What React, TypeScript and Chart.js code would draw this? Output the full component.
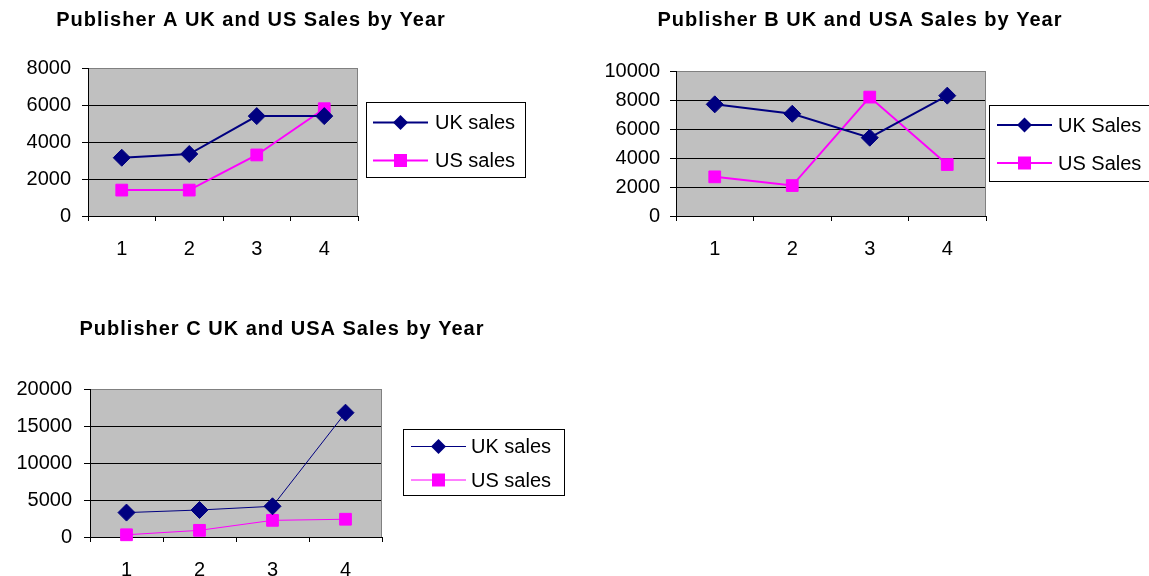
import { useEffect, useRef } from "react";
import { Chart, registerables } from "chart.js";

Chart.register(...registerables);

// ---------- data ----------
const years = ["1", "2", "3", "4"];

const titleA = "Publisher A UK and US Sales by Year";
const labelsA = ["UK sales", "US sales"];
const ukA = [3150, 3350, 5400, 5400];
const usA = [1400, 1400, 3300, 5800];
const maxA = 8000;
const stepA = 2000;

const titleB = "Publisher B UK and USA Sales by Year";
const labelsB = ["UK Sales", "US Sales"];
const ukB = [7700, 7050, 5400, 8300];
const usB = [2700, 2100, 8200, 3550];
const maxB = 10000;
const stepB = 2000;

const titleC = "Publisher C UK and USA Sales by Year";
const labelsC = ["UK sales", "US sales"];
const ukC = [3300, 3650, 4150, 16800];
const usC = [300, 900, 2250, 2400];
const maxC = 20000;
const stepC = 5000;

// ---------- styles / layout ----------
const W = 1149;
const H = 576;
const NAVY = "#000080";
const PINK = "#FF00FF";
const PLOT_BG = "#C0C0C0";
const PLOT_EDGE = "#808080";
const FONT = '"Liberation Sans", Arial, Helvetica, sans-serif';

type Spec = {
  title: string;
  titleX: number;
  titleY: number;
  plot: { l: number; r: number; t: number; b: number };
  yWidth: number;
  xHeight: number;
  xPad: number;
  yPad: number;
  lineW: number;
  labels: string[];
  uk: number[];
  us: number[];
  max: number;
  step: number;
  legend: {
    l: number;
    r: number;
    t: number;
    b: number;
    rows: number[];
    lineL: number;
    lineR: number;
    textX: number;
    lineW: number;
  };
};

const specs: Spec[] = [
  {
    title: titleA,
    titleX: 251,
    titleY: 26,
    plot: { l: 88, r: 358, t: 68, b: 216 },
    yWidth: 80,
    xHeight: 50,
    xPad: 16,
    yPad: 11,
    lineW: 2,
    labels: labelsA,
    uk: ukA,
    us: usA,
    max: maxA,
    step: stepA,
    legend: { l: 366, r: 525, t: 102, b: 177, rows: [122.5, 160.5], lineL: 373, lineR: 428, textX: 435, lineW: 2 },
  },
  {
    title: titleB,
    titleX: 860,
    titleY: 26,
    plot: { l: 676, r: 986, t: 71, b: 216 },
    yWidth: 80,
    xHeight: 50,
    xPad: 16,
    yPad: 10,
    lineW: 2,
    labels: labelsB,
    uk: ukB,
    us: usB,
    max: maxB,
    step: stepB,
    legend: { l: 989, r: 1152, t: 105, b: 181, rows: [125, 163], lineL: 997, lineR: 1052, textX: 1058, lineW: 2 },
  },
  {
    title: titleC,
    titleX: 282,
    titleY: 335,
    plot: { l: 90, r: 382, t: 389, b: 537 },
    yWidth: 80,
    xHeight: 39,
    xPad: 16,
    yPad: 12,
    lineW: 1,
    labels: labelsC,
    uk: ukC,
    us: usC,
    max: maxC,
    step: stepC,
    legend: { l: 403, r: 564, t: 429, b: 495, rows: [446.5, 480], lineL: 411, lineR: 466, textX: 471, lineW: 1 },
  },
];

function drawDiamond(ctx: CanvasRenderingContext2D, x: number, y: number, r: number) {
  ctx.beginPath();
  ctx.moveTo(x - r, y);
  ctx.lineTo(x, y - r);
  ctx.lineTo(x + r, y);
  ctx.lineTo(x, y + r);
  ctx.closePath();
  ctx.fill();
}

function makeDecor(spec: Spec) {
  return {
    id: "decor",
    beforeDraw(chart: any) {
      const { ctx, chartArea } = chart;
      ctx.save();
      ctx.fillStyle = PLOT_BG;
      ctx.fillRect(chartArea.left, chartArea.top, chartArea.right - chartArea.left, chartArea.bottom - chartArea.top);
      ctx.restore();
    },
    beforeDatasetsDraw(chart: any) {
      const { ctx, chartArea } = chart;
      ctx.save();
      ctx.strokeStyle = PLOT_EDGE;
      ctx.lineWidth = 1;
      ctx.beginPath();
      const x = Math.round(chartArea.right) - 0.5;
      ctx.moveTo(x, chartArea.top);
      ctx.lineTo(x, chartArea.bottom);
      ctx.stroke();
      ctx.restore();
    },
    afterDraw(chart: any) {
      const ctx: CanvasRenderingContext2D = chart.ctx;
      ctx.save();
      // title
      ctx.fillStyle = "#000";
      ctx.font = `bold 20px ${FONT}`;
      (ctx as any).letterSpacing = "1px";
      ctx.textAlign = "center";
      ctx.textBaseline = "alphabetic";
      ctx.fillText(spec.title, spec.titleX, spec.titleY);
      (ctx as any).letterSpacing = "0px";

      // legend
      const lg = spec.legend;
      ctx.fillStyle = "#FFFFFF";
      ctx.fillRect(lg.l, lg.t, lg.r - lg.l, lg.b - lg.t);
      ctx.strokeStyle = "#000";
      ctx.lineWidth = 1;
      ctx.strokeRect(lg.l + 0.5, lg.t + 0.5, lg.r - lg.l, lg.b - lg.t);
      const colors = [NAVY, PINK];
      lg.rows.forEach((y, i) => {
        ctx.strokeStyle = colors[i];
        ctx.lineWidth = lg.lineW;
        ctx.beginPath();
        ctx.moveTo(lg.lineL, y);
        ctx.lineTo(lg.lineR, y);
        ctx.stroke();
        ctx.fillStyle = colors[i];
        const cx = (lg.lineL + lg.lineR) / 2;
        if (i === 0) drawDiamond(ctx, cx, y, 7.5);
        else ctx.fillRect(cx - 6.5, y - 6.5, 13, 13);
        ctx.fillStyle = "#000";
        ctx.font = `20px ${FONT}`;
        ctx.textAlign = "left";
        ctx.textBaseline = "middle";
        ctx.fillText(spec.labels[i], lg.textX, y + 1);
      });
      ctx.restore();
    },
  };
}

function SalesChart({ spec }: { spec: Spec }) {
  const ref = useRef<HTMLCanvasElement | null>(null);
  useEffect(() => {
    if (!ref.current) return;
    const p = spec.plot;
    const chart = new Chart(ref.current, {
      type: "line",
      data: {
        labels: years,
        datasets: [
          {
            label: spec.labels[0],
            data: spec.uk,
            borderColor: NAVY,
            backgroundColor: NAVY,
            borderWidth: spec.lineW,
            pointStyle: "rectRot",
            pointRadius: 8.5,
            pointBorderWidth: 1,
            pointBorderColor: NAVY,
            pointBackgroundColor: NAVY,
            tension: 0,
            clip: false as any,
          },
          {
            label: spec.labels[1],
            data: spec.us,
            borderColor: PINK,
            backgroundColor: PINK,
            borderWidth: spec.lineW,
            pointStyle: "rect",
            pointRadius: 8.3,
            pointBorderWidth: 1,
            pointBorderColor: PINK,
            pointBackgroundColor: PINK,
            tension: 0,
            clip: false as any,
          },
        ],
      },
      options: {
        animation: false,
        responsive: false,
        maintainAspectRatio: false,
        events: [],
        layout: {
          padding: {
            left: p.l - spec.yWidth,
            right: W - p.r,
            top: p.t,
            bottom: H - p.b - spec.xHeight,
          },
        },
        plugins: {
          legend: { display: false },
          title: { display: false },
          tooltip: { enabled: false },
        },
        scales: {
          x: {
            type: "category",
            offset: true,
            grid: {
              offset: true,
              drawOnChartArea: false,
              drawTicks: true,
              tickLength: 5,
              tickColor: "#000",
              color: "#000",
            },
            border: { display: true, color: "#000", width: 1 },
            ticks: {
              color: "#000",
              font: { family: FONT, size: 20 },
              padding: spec.xPad,
              maxRotation: 0,
              autoSkip: false,
            },
            afterFit: (scale: any) => {
              scale.height = spec.xHeight;
            },
          },
          y: {
            type: "linear",
            min: 0,
            max: spec.max,
            grid: {
              color: (c: any) => (c.tick && c.tick.value === spec.max ? PLOT_EDGE : "#000"),
              tickColor: "#000",
              tickLength: 6,
              lineWidth: 1,
            },
            border: { display: true, color: "#000", width: 1 },
            ticks: {
              stepSize: spec.step,
              color: "#000",
              font: { family: FONT, size: 20 },
              padding: spec.yPad,
              callback: (v: any) => String(v),
            },
            afterFit: (scale: any) => {
              scale.width = spec.yWidth;
            },
          },
        },
      },
      plugins: [makeDecor(spec)],
    } as any);
    return () => chart.destroy();
  }, [spec]);
  return (
    <canvas
      ref={ref}
      width={W}
      height={H}
      style={{ position: "absolute", left: 0, top: 0, width: W, height: H }}
    />
  );
}

export default function App() {
  return (
    <div style={{ position: "absolute", left: 0, top: 0, width: W, height: H, background: "#fff", overflow: "hidden" }}>
      {specs.map((s, i) => (
        <SalesChart key={i} spec={s} />
      ))}
    </div>
  );
}
